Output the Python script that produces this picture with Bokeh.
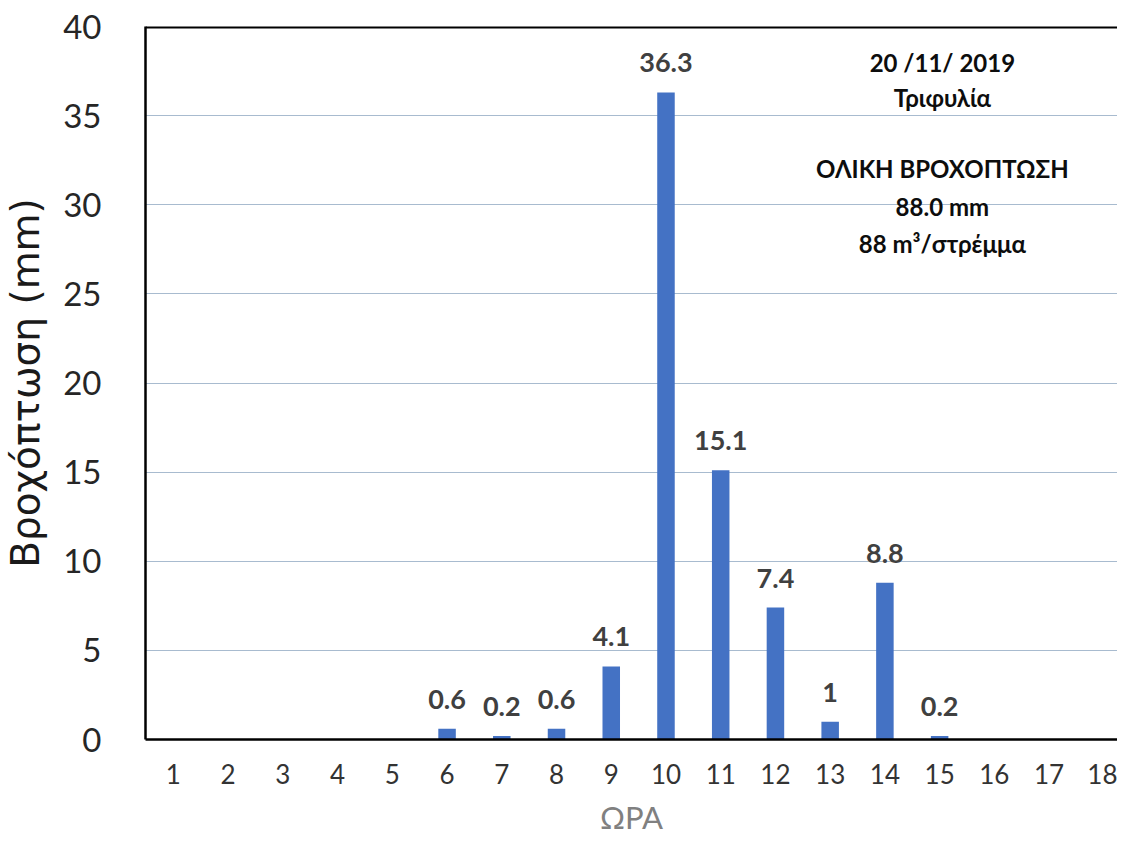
from bokeh.plotting import figure
from bokeh.models import Range1d, Span, Label, FixedTicker, ColumnDataSource
from bokeh.core.properties import value
from bokeh.embed import file_html
from bokeh.resources import INLINE

# ---- data ----
hours = list(range(1, 19))
rain_mm = [0, 0, 0, 0, 0, 0.6, 0.2, 0.6, 4.1, 36.3, 15.1, 7.4, 1, 8.8, 0.2, 0, 0, 0]
label_hours = [6, 7, 8, 9, 10, 11, 12, 13, 14, 15]
label_values = [0.6, 0.2, 0.6, 4.1, 36.3, 15.1, 7.4, 1, 8.8, 0.2]
label_texts = ["0.6", "0.2", "0.6", "4.1", "36.3", "15.1", "7.4", "1", "8.8", "0.2"]
y_ticks = [0, 5, 10, 15, 20, 25, 30, 35, 40]
x_ticks = hours
info_lines = ["20 /11/ 2019", "Τριφυλία", "ΟΛΙΚΗ ΒΡΟΧΟΠΤΩΣΗ", "88.0 mm", "88 m³/στρέμμα"]

FONT = "Lato"

p = figure(width=1117, height=838, output_backend="svg", toolbar_location=None,
           x_range=Range1d(0.49, 18.25), y_range=Range1d(0, 40),
           min_border_left=142, min_border_right=0, min_border_top=26, min_border_bottom=98)
p.outline_line_color = None
p.background_fill_color = "white"
p.border_fill_color = "white"

src = ColumnDataSource(dict(x=hours, top=rain_mm))
p.vbar(x="x", top="top", width=0.32, bottom=0, source=src,
       fill_color="#4472C4", line_color=None)

lsrc = ColumnDataSource(dict(x=label_hours, y=label_values, t=label_texts))
p.text(x="x", y="y", text="t", source=lsrc, text_align="center", text_baseline="bottom",
       y_offset=-20, text_font=value(FONT), text_font_style="bold",
       text_font_size="27px", text_color="#404040")

# axes
p.xaxis.ticker = FixedTicker(ticks=x_ticks)
p.yaxis.ticker = FixedTicker(ticks=y_ticks)
p.ygrid.ticker = FixedTicker(ticks=y_ticks[1:-1])
p.xgrid.grid_line_color = None
p.ygrid.grid_line_color = "#a8bbcf"
p.ygrid.grid_line_width = 1

for ax in (p.xaxis, p.yaxis):
    ax.major_tick_line_color = None
    ax.minor_tick_line_color = None
    ax.axis_line_color = "black"
    ax.axis_line_width = 2.5
    ax.major_label_text_font = FONT
    ax.axis_label_text_font = FONT
    ax.axis_label_text_font_style = "normal"

p.yaxis.major_label_text_font_size = "33px"
p.yaxis.major_label_text_color = "#262626"
p.yaxis.major_label_standoff = 38
p.yaxis.axis_label = "Βροχόπτωση (mm)"
p.yaxis.axis_label_text_font = "DejaVu Sans"
p.yaxis.axis_label_text_font_size = "39px"
p.yaxis.axis_label_text_color = "#1a1a1a"
p.yaxis.axis_label_standoff = 12

p.xaxis.major_label_text_font_size = "26px"
p.xaxis.major_label_text_color = "#333333"
p.xaxis.major_label_standoff = 18
p.xaxis.axis_label = "ΩΡΑ"
p.xaxis.axis_label_text_font_size = "31px"
p.xaxis.axis_label_text_color = "#808080"
p.xaxis.axis_label_standoff = 11

# top frame line
p.add_layout(Span(location=40, dimension="width", line_color="black", line_width=4))

# info text block
info_y = [38.0, 36.0, 32.05, 29.9, 27.85]
for txt, yy in zip(info_lines, info_y):
    p.add_layout(Label(x=15.05, y=yy, text=txt, text_align="center", text_baseline="middle",
                       text_font=FONT, text_font_style="bold", text_font_size="24px",
                       text_color="#0d0d0d"))

open("out.html", "w").write(file_html(p, INLINE))
